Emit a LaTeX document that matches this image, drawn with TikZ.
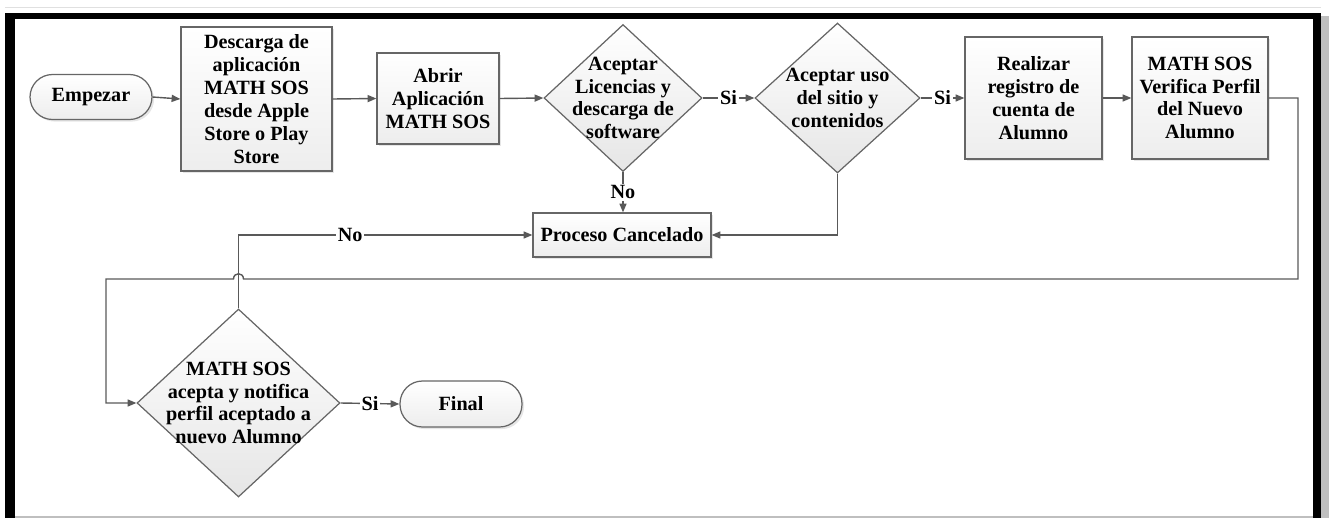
\documentclass[tikz,border=0pt]{standalone}
\usepackage{fontspec}
\setmainfont{Liberation Serif}
\usetikzlibrary{arrows.meta,shapes.geometric,shadows}

\begin{document}
\begin{tikzpicture}[x=0.02cm, y=-0.02cm,
		every node/.style={font=\fontsize{11.5}{13}\selectfont\bfseries, align=center},
		>={Triangle[length=5pt, width=4pt]},
		linea/.style={draw=black!65, line width=0.8pt},
		caja/.style={draw=black!60, line width=0.7pt, top color=white, bottom color=black!7,
			drop shadow={shadow xshift=1.2pt, shadow yshift=-1.2pt, opacity=0.2}, inner sep=0pt},
		term/.style={caja, rounded corners=0.45cm},
		rombo/.style={diamond, draw=black!60, line width=0.7pt, top color=white, bottom color=black!10, inner sep=0pt},
		lab/.style={fill=white, inner sep=1pt}]
		\useasboundingbox (0,0) rectangle (1329,518);

		% marco
		\fill[black!12] (5,6.5) rectangle (1321,7.5);
		\fill[black!25] (1321,16) rectangle (1329,518);
		\fill[black!25] (15,516) rectangle (1313,518);
		\fill[black] (5,13) rectangle (15,518);
		\fill[black] (5,13) rectangle (1321,19);
		\fill[black] (1313,13) rectangle (1321,518);

		% fila de arriba
		\node[term, minimum width=2.44cm, minimum height=0.9cm] (start) at (91,97) {Empezar};
		\node[caja, minimum width=3.02cm, minimum height=2.88cm] (down) at (256.5,99) {Descarga de\\aplicación\\MATH SOS\\desde Apple\\Store o Play\\Store};
		\node[caja, minimum width=2.44cm, minimum height=1.82cm] (open) at (438,98.5) {Abrir\\Aplicación\\MATH SOS};
		\node[rombo, minimum width=3.16cm, minimum height=2.94cm,
			label={center:Aceptar\\Licencias y\\descarga de\\software}] (lic) at (623,98) {};
		\node[rombo, minimum width=3.3cm, minimum height=3cm,
			label={center:Aceptar uso\\del sitio y\\contenidos}] (uso) at (837.5,98) {};
		\node[caja, minimum width=2.74cm, minimum height=2.44cm] (reg) at (1033.5,98) {Realizar\\registro de\\cuenta de\\Alumno};
		\node[caja, minimum width=2.72cm, minimum height=2.44cm] (verif) at (1200,98) {MATH SOS\\Verifica Perfil\\del Nuevo\\Alumno};

		\node[caja, minimum width=3.56cm, minimum height=0.88cm] (cancel) at (622,235) {Proceso Cancelado};

		% fila de abajo
		\node[rombo, minimum width=4.06cm, minimum height=3.76cm,
			label={center:MATH SOS\\acepta y notifica\\perfil aceptado a\\nuevo Alumno}] (notif) at (238.5,403) {};
		\node[term, minimum width=2.44cm, minimum height=0.92cm] (final) at (461,404) {Final};

		\foreach \a/\b in {start/down, down/open, open/lic, reg/verif}
		\draw[linea, ->] (\a.east) -- (\b.west);
		\foreach \a/\b in {lic/uso, uso/reg, notif/final}
		\draw[linea, ->] (\a.east) -- node[lab] {Si} (\b.west);

		\draw[linea, ->] (lic.south) -- node[lab] {No} (lic.south |- cancel.north);
		\draw[linea, ->] (uso.south) |- (cancel.east);
		\draw[linea, ->] (notif.north) |- node[lab, pos=0.69] {No} (cancel.west);
		\draw[linea, ->] (verif.east) -- (1298,98) -- (1298,279) -- (243.5,279)
			.. controls (243.5,272) and (233.5,272) .. (233.5,279) -- (106,279) |- (notif.west);
	\end{tikzpicture}
\end{document}
